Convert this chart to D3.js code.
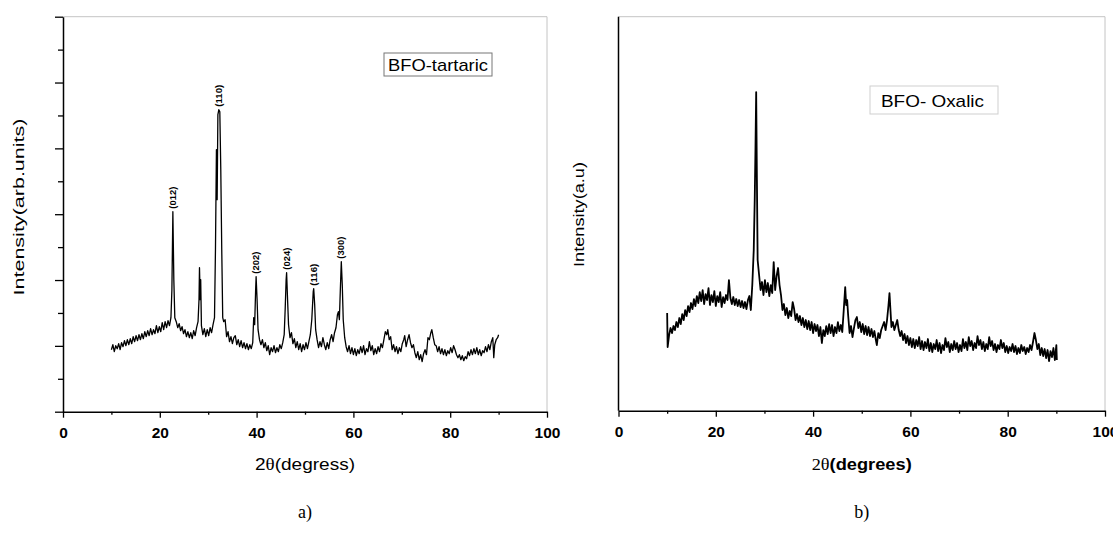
<!DOCTYPE html>
<meta charset="utf-8">
<head>
<title>BFO XRD</title>
<script src="https://cdn.jsdelivr.net/npm/d3@7"></script>
<style>
	body { margin: 0; background: #fff; }
	svg { display: block; font-family: "Liberation Sans", Arial, sans-serif; }
	.tick text { font-weight: bold; font-size: 15.5px; fill: #000; }
	.domain { stroke-width: 1.5; }
	.tick line { stroke-width: 1.3; }
	.frame { stroke: #c4c4c4; stroke-width: 1; fill: none; }
	.trace { fill: none; stroke: #000; stroke-linejoin: round; }
	.hkl { font-size: 9px; font-weight: bold; }
	.serif { font-family: "Liberation Serif", "Times New Roman", serif; }
</style>
</head>
<body>
<div id="chart"></div>
<script>
// x axis ticks (both panels)
var xTicks = [0, 20, 40, 60, 80, 100];
var xMinor = [10, 30, 50, 70, 90];

// a) BFO-tartaric : [2theta, intensity]
var tartaric = [
	[10.0,186],[10.3,201],[10.6,180],[10.9,198],[11.2,189],[11.5,204],[11.8,186],[12.1,207],[12.4,195],[12.7,213],
	[13.0,198],[13.3,216],[13.6,201],[13.9,219],[14.2,204],[14.5,225],[14.8,210],[15.1,228],[15.4,213],[15.7,231],
	[16.0,216],[16.3,234],[16.6,219],[16.9,240],[17.2,225],[17.5,243],[17.8,228],[18.1,249],[18.4,231],[18.7,246],
	[19.0,234],[19.3,258],[19.6,237],[19.9,255],[20.2,240],[20.5,267],[20.8,246],[21.1,270],[21.4,252],[21.7,273],
	[22.0,258],[22.3,282],[22.5,366],[22.7,600],[22.9,396],[23.1,282],[23.4,270],[23.7,252],[24.0,264],[24.3,243],
	[24.6,255],[24.9,234],[25.2,246],[25.5,225],[25.8,240],[26.1,222],[26.4,237],[26.7,219],[27.0,243],[27.3,228],
	[27.6,252],[27.9,270],[28.1,336],[28.2,432],[28.35,336],[28.45,396],[28.6,258],[28.9,231],[29.2,249],[29.5,225],
	[29.8,246],[30.1,228],[30.4,252],[30.7,237],[31.0,261],[31.3,282],[31.5,486],[31.7,786],[31.85,636],[32.0,891],
	[32.2,906],[32.4,900],[32.6,726],[32.8,486],[33.0,282],[33.2,270],[33.5,276],[33.8,225],[34.1,240],[34.4,210],
	[34.7,225],[35.0,204],[35.3,222],[35.6,228],[35.9,201],[36.2,216],[36.5,195],[36.8,213],[37.1,192],[37.4,207],
	[37.7,189],[38.0,204],[38.3,186],[38.6,201],[38.9,189],[39.2,207],[39.4,282],[39.6,261],[39.8,366],[39.9,405],
	[40.1,336],[40.3,246],[40.6,216],[40.9,201],[41.2,216],[41.5,192],[41.8,207],[42.1,183],[42.4,198],[42.7,171],
	[43.0,192],[43.3,180],[43.6,198],[43.9,177],[44.2,192],[44.5,180],[44.8,201],[45.1,189],[45.4,207],[45.7,231],
	[45.9,306],[46.1,396],[46.2,417],[46.4,336],[46.6,261],[46.9,222],[47.2,237],[47.5,204],[47.8,219],[48.1,192],
	[48.4,210],[48.7,186],[49.0,204],[49.3,180],[49.6,201],[49.9,186],[50.2,207],[50.5,189],[50.8,210],[51.1,231],
	[51.4,276],[51.7,360],[51.8,369],[52.0,321],[52.2,246],[52.5,216],[52.8,192],[53.1,210],[53.4,195],[53.7,222],
	[54.0,201],[54.3,186],[54.6,207],[54.9,189],[55.2,216],[55.5,231],[55.8,210],[56.1,237],[56.4,252],[56.7,291],
	[56.9,300],[57.1,276],[57.3,366],[57.5,450],[57.7,381],[57.9,276],[58.2,222],[58.5,195],[58.8,180],[59.1,198],
	[59.4,174],[59.7,192],[60.0,171],[60.3,189],[60.6,168],[60.9,186],[61.2,174],[61.5,195],[61.8,177],[62.1,198],
	[62.4,171],[62.7,189],[63.0,180],[63.3,210],[63.6,183],[63.9,198],[64.2,171],[64.5,189],[64.8,174],[65.1,195],
	[65.4,180],[65.7,204],[66.0,192],[66.3,216],[66.6,240],[66.9,231],[67.1,246],[67.4,216],[67.7,225],[68.0,186],
	[68.3,201],[68.6,180],[68.9,195],[69.2,174],[69.5,192],[69.8,180],[70.1,204],[70.4,216],[70.6,228],[70.9,195],
	[71.2,216],[71.5,231],[71.8,207],[72.1,192],[72.4,201],[72.7,177],[73.0,162],[73.3,180],[73.6,156],[73.9,171],
	[74.2,150],[74.5,174],[74.8,186],[75.1,171],[75.4,222],[75.7,216],[76.0,237],[76.2,246],[76.5,222],[76.8,201],
	[77.1,198],[77.4,180],[77.7,195],[78.0,174],[78.3,189],[78.6,171],[78.9,186],[79.2,168],[79.5,183],[79.8,174],
	[80.1,192],[80.4,177],[80.7,198],[81.0,186],[81.3,171],[81.6,162],[81.9,171],[82.2,156],[82.5,168],[82.8,153],
	[83.1,165],[83.4,159],[83.7,180],[84.0,168],[84.3,186],[84.6,171],[84.9,189],[85.2,174],[85.5,192],[85.8,171],
	[86.1,186],[86.4,168],[86.7,183],[87.0,177],[87.3,195],[87.6,180],[87.9,201],[88.2,186],[88.5,210],[88.8,222],
	[89.0,162],[89.2,201],[89.5,216],[89.8,222],[90.0,231]
];
var tartaricHkl = ["(012)", "(110)", "(202)", "(024)", "(116)", "(300)"];
var tartaricHklDeg = [22.7, 32.2, 39.9, 46.2, 51.8, 57.5];

// b) BFO- Oxalic : [2theta, intensity]
var oxalic = [
	[10.0,293],[10.1,191],[10.4,227],[10.7,248],[11.0,233],[11.3,254],[11.6,242],[11.9,266],[12.2,251],[12.5,278],
	[12.8,260],[13.1,290],[13.4,272],[13.7,302],[14.0,284],[14.3,314],[14.6,296],[14.9,323],[15.2,305],[15.5,335],
	[15.8,314],[16.1,344],[16.4,323],[16.7,356],[17.0,329],[17.3,362],[17.6,320],[17.9,350],[18.2,332],[18.5,368],
	[18.8,317],[19.1,347],[19.4,326],[19.7,359],[20.0,314],[20.3,344],[20.6,326],[20.9,356],[21.2,311],[21.5,341],
	[21.8,323],[22.1,347],[22.4,332],[22.7,392],[23.0,338],[23.3,320],[23.6,341],[23.9,317],[24.2,335],[24.5,314],
	[24.8,332],[25.1,311],[25.4,329],[25.7,308],[26.0,326],[26.3,305],[26.6,332],[26.9,344],[27.2,302],[27.5,377],
	[27.8,482],[28.0,632],[28.15,782],[28.3,956],[28.45,692],[28.6,452],[28.9,407],[29.2,362],[29.5,386],[29.8,347],
	[30.1,392],[30.4,356],[30.7,383],[31.0,344],[31.3,377],[31.6,353],[31.9,446],[32.2,362],[32.5,404],[32.8,428],
	[33.1,377],[33.4,347],[33.7,302],[34.0,320],[34.3,287],[34.6,308],[34.9,278],[35.2,299],[35.5,284],[35.8,326],
	[36.1,305],[36.4,272],[36.7,290],[37.0,266],[37.3,284],[37.6,257],[37.9,278],[38.2,251],[38.5,272],[38.8,245],
	[39.1,269],[39.4,242],[39.7,266],[40.0,233],[40.3,260],[40.6,239],[40.9,257],[41.2,224],[41.5,251],[41.8,203],
	[42.1,242],[42.4,224],[42.7,254],[43.0,230],[43.3,260],[43.6,233],[43.9,257],[44.2,224],[44.5,251],[44.8,233],
	[45.1,266],[45.4,239],[45.7,257],[46.0,236],[46.3,302],[46.6,371],[46.8,317],[47.0,332],[47.2,287],[47.5,233],
	[47.8,254],[48.1,221],[48.4,248],[48.7,272],[49.0,281],[49.3,248],[49.6,266],[49.9,236],[50.2,260],[50.5,230],
	[50.8,254],[51.1,227],[51.4,251],[51.7,224],[52.0,245],[52.3,221],[52.6,239],[52.9,212],[53.1,197],[53.4,233],
	[53.7,218],[54.0,242],[54.3,254],[54.6,266],[54.9,242],[55.2,272],[55.5,317],[55.7,353],[55.9,302],[56.1,251],
	[56.4,266],[56.7,242],[57.0,257],[57.3,272],[57.6,242],[57.9,224],[58.2,239],[58.5,212],[58.8,230],[59.1,203],
	[59.4,224],[59.7,197],[60.0,218],[60.3,191],[60.6,215],[60.9,188],[61.2,212],[61.5,194],[61.8,221],[62.1,185],
	[62.4,209],[62.7,182],[63.0,206],[63.3,188],[63.6,215],[63.9,179],[64.2,203],[64.5,176],[64.8,200],[65.1,185],
	[65.4,212],[65.7,179],[66.0,203],[66.3,173],[66.6,197],[66.9,182],[67.2,218],[67.5,191],[67.8,206],[68.1,176],
	[68.4,200],[68.7,182],[69.0,209],[69.3,185],[69.6,203],[69.9,176],[70.2,197],[70.5,179],[70.8,215],[71.1,188],
	[71.4,206],[71.7,182],[72.0,221],[72.3,194],[72.6,209],[72.9,182],[73.2,203],[73.5,188],[73.8,224],[74.1,197],
	[74.4,212],[74.7,185],[75.0,206],[75.3,179],[75.6,200],[75.9,185],[76.2,221],[76.5,194],[76.8,209],[77.1,182],
	[77.4,200],[77.7,176],[78.0,197],[78.3,185],[78.6,212],[78.9,188],[79.2,203],[79.5,176],[79.8,194],[80.1,173],
	[80.4,191],[80.7,179],[81.0,200],[81.3,176],[81.6,194],[81.9,170],[82.2,188],[82.5,173],[82.8,197],[83.1,179],
	[83.4,191],[83.7,170],[84.0,188],[84.3,176],[84.6,197],[84.9,182],[85.2,206],[85.5,233],[85.8,212],[86.1,185],
	[86.4,200],[86.7,167],[87.0,188],[87.3,164],[87.6,185],[87.9,158],[88.2,182],[88.5,149],[88.8,179],[89.1,161],
	[89.4,188],[89.7,152],[90.0,197],[90.1,152]
];

var width = 1113, height = 535;
var svg = d3.select("#chart").append("svg")
	.attr("width", width)
	.attr("height", height);

function drawPanel(p) {
	var x = d3.scaleLinear().domain([0, 100]).range([p.x0, p.x1]);
	var y = d3.scaleLinear().domain([0, p.yMax]).range([p.yBot, p.yTop]);
	var g = svg.append("g").attr("color", "#000");

	// light frame on top and right
	g.append("line").attr("class", "frame")
		.attr("x1", p.x0).attr("x2", p.x1).attr("y1", p.yTop).attr("y2", p.yTop);
	g.append("line").attr("class", "frame")
		.attr("x1", p.x1).attr("x2", p.x1).attr("y1", p.yTop).attr("y2", p.yBot);

	var line = d3.line().x(function (d) { return x(d[0]); }).y(function (d) { return y(d[1]); });
	g.append("path").datum(p.data)
		.attr("class", "trace")
		.attr("stroke-width", p.lw)
		.attr("d", line);

	// x axis
	g.append("g").attr("transform", "translate(0," + p.yBot + ")")
		.call(d3.axisBottom(x).tickValues(xMinor).tickSize(3).tickFormat(""))
		.call(function (s) { s.select(".domain").remove(); });
	g.append("g").attr("transform", "translate(0," + p.yBot + ")")
		.call(d3.axisBottom(x).tickValues(xTicks).tickSize(6).tickSizeOuter(0).tickPadding(9).tickFormat(d3.format("d")));

	// y axis
	if (p.yTicks) {
		var major = d3.range(0, 7).map(function (i) { return i * p.yMax / 6; });
		var minor = d3.range(0, 6).map(function (i) { return (i + 0.5) * p.yMax / 6; });
		g.append("g").attr("transform", "translate(" + p.x0 + ",0)")
			.call(d3.axisLeft(y).tickValues(minor).tickSize(5).tickFormat(""))
			.call(function (s) { s.select(".domain").remove(); });
		g.append("g").attr("transform", "translate(" + p.x0 + ",0)")
			.call(d3.axisLeft(y).tickValues(major).tickSize(8).tickSizeOuter(0).tickFormat(""));
	} else {
		g.append("line").attr("stroke", "#000").attr("stroke-width", 1.5)
			.attr("x1", p.x0).attr("x2", p.x0).attr("y1", p.yTop).attr("y2", p.yBot);
	}

	// peak labels
	if (p.hkl) {
		p.hkl.forEach(function (name, i) {
			var deg = p.hklDeg[i];
			var top = d3.max(p.data.filter(function (d) { return Math.abs(d[0] - deg) < 0.6; }), function (d) { return d[1]; });
			var px = x(deg), py = y(top) - 3;
			g.append("text").attr("class", "hkl")
				.attr("transform", "translate(" + px + "," + py + ") rotate(-90)")
				.attr("dominant-baseline", "central")
				.attr("textLength", 22).attr("lengthAdjust", "spacingAndGlyphs")
				.text(name);
		});
	}

	// y title
	g.append("text")
		.attr("transform", "translate(" + p.yTitleX + "," + p.yTitleY + ") rotate(-90)")
		.attr("text-anchor", "middle").attr("dominant-baseline", "central")
		.attr("font-size", 15)
		.attr("textLength", p.yTitleLen).attr("lengthAdjust", "spacingAndGlyphs")
		.text(p.yTitle);

	// x title
	var cx = (p.x0 + p.x1) / 2;
	var xt = g.append("text").attr("x", cx).attr("y", 470)
		.attr("text-anchor", "middle").attr("font-size", 17)
		.attr("textLength", 100).attr("lengthAdjust", "spacingAndGlyphs");
	p.xTitle(xt);

	// legend box
	g.append("rect").attr("x", p.box[0]).attr("y", p.box[1]).attr("width", p.box[2]).attr("height", p.box[3])
		.attr("fill", "#fff").attr("stroke", p.boxStroke).attr("stroke-width", 1);
	g.append("text").attr("x", p.box[0] + p.textDx).attr("y", p.box[1] + p.box[3] - p.textDy)
		.attr("font-size", 17)
		.attr("textLength", p.textLen).attr("lengthAdjust", "spacingAndGlyphs")
		.text(p.name);

	// caption
	svg.append("text").attr("class", "serif").attr("x", cx).attr("y", 518)
		.attr("text-anchor", "middle").attr("font-size", 18)
		.text(p.caption);
}

drawPanel({
	data: tartaric, x0: 63, x1: 547, yTop: 16.7, yBot: 411.7, yMax: 1185, yTicks: true, lw: 1.3,
	hkl: tartaricHkl, hklDeg: tartaricHklDeg,
	yTitle: "Intensity(arb.units)", yTitleX: 18.5, yTitleY: 207, yTitleLen: 177,
	xTitle: function (t) {
		t.append("tspan").text("2");
		t.append("tspan").attr("class", "serif").text("\u03b8");
		t.append("tspan").text("(degress)");
	},
	box: [384, 53, 108, 23], boxStroke: "#777", name: "BFO-tartaric", textDx: 4, textDy: 5, textLen: 100,
	caption: "a)"
});

drawPanel({
	data: oxalic, x0: 618.5, x1: 1105, yTop: 16.7, yBot: 410.7, yMax: 1182, yTicks: false, lw: 1.8,
	yTitle: "Intensity(a.u)", yTitleX: 578.5, yTitleY: 214.5, yTitleLen: 105,
	xTitle: function (t) {
		t.append("tspan").attr("class", "serif").text("2\u03b8");
		t.append("tspan").attr("font-weight", "bold").text("(degrees)");
	},
	box: [870, 86, 128, 28], boxStroke: "#cfcfcf", name: "BFO- Oxalic", textDx: 11, textDy: 7, textLen: 103,
	caption: "b)"
});
</script>
</body>
</html>
